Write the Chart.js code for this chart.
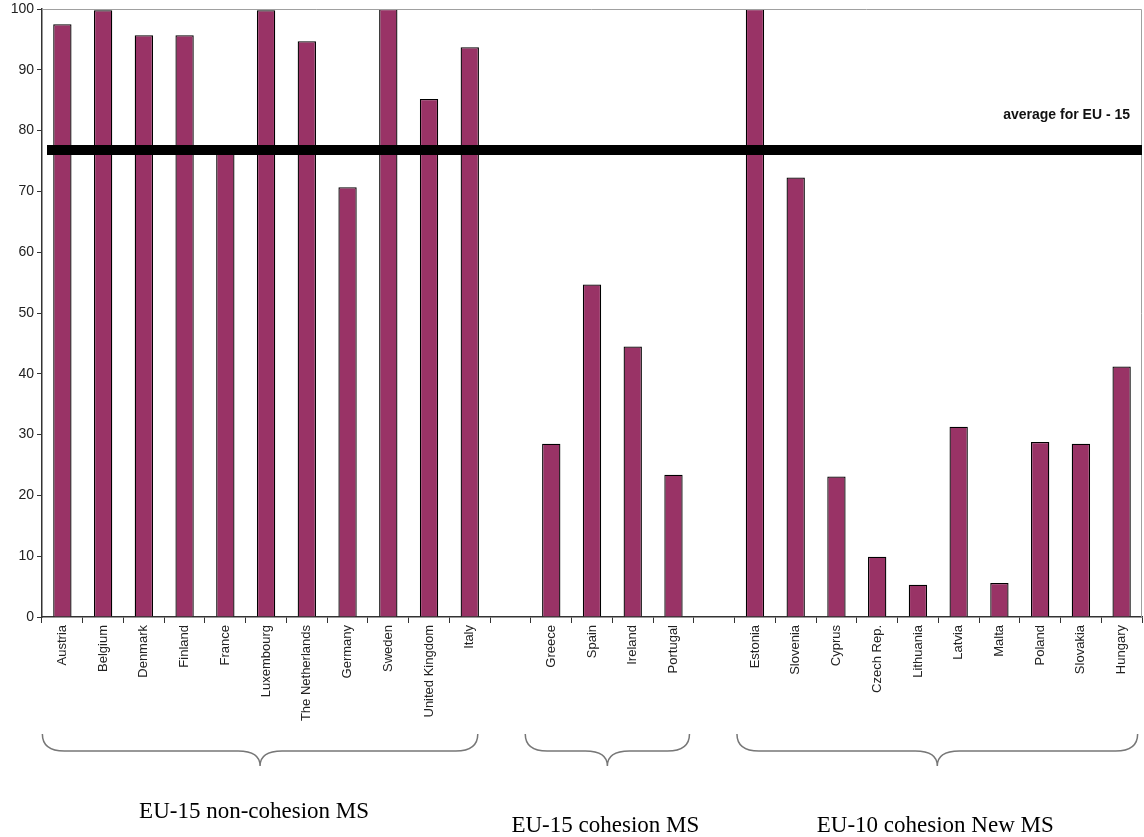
<!DOCTYPE html>
<html>
<head>
<meta charset="utf-8">
<script src="https://cdn.jsdelivr.net/npm/chart.js@4"></script>
<style>
  html, body { margin: 0; padding: 0; background: #fff; }
  #wrap { width: 1144px; height: 837px; }
</style>
</head>
<body>
<div id="wrap"><canvas id="chart"></canvas></div>
<script>
// categories (empty strings are the gaps between the groups)
const countries = ['Austria', 'Belgium', 'Denmark', 'Finland', 'France', 'Luxembourg', 'The Netherlands',
  'Germany', 'Sweden', 'United Kingdom', 'Italy', '',
  'Greece', 'Spain', 'Ireland', 'Portugal', '',
  'Estonia', 'Slovenia', 'Cyprus', 'Czech Rep.', 'Lithuania', 'Latvia', 'Malta', 'Poland', 'Slovakia', 'Hungary'];
const values = [97.5, 99.8, 95.7, 95.7, 76.4, 99.8, 94.7, 70.7, 100, 85.2, 93.7, null,
  28.5, 54.7, 44.5, 23.4, null,
  100, 72.3, 23.1, 9.9, 5.3, 31.3, 5.6, 28.8, 28.5, 41.2];
const yTicks = [0, 10, 20, 30, 40, 50, 60, 70, 80, 90, 100];
const average = 76.8;
const averageLabel = 'average for EU - 15';
// groups: label, first index, last index
const groupNames = ['EU-15 non-cohesion MS', 'EU-15 cohesion MS', 'EU-10 cohesion New MS'];
const groupStart = [0, 12, 17];
const groupEnd = [10, 15, 26];

const extras = {
  id: 'extras',
  afterDatasetsDraw(chart) {
    const ctx = chart.ctx;
    const area = chart.chartArea;
    const x = chart.scales.x;
    const y = chart.scales.y;
    ctx.save();
    // grey frame top and right
    ctx.strokeStyle = '#a0a0a0';
    ctx.lineWidth = 1;
    ctx.beginPath();
    ctx.moveTo(area.left, area.top + 0.5);
    ctx.lineTo(area.right - 0.5, area.top + 0.5);
    ctx.lineTo(area.right - 0.5, area.bottom);
    ctx.stroke();

    // average line
    const ya = y.getPixelForValue(average);
    ctx.strokeStyle = '#000';
    ctx.lineWidth = 10;
    ctx.beginPath();
    ctx.moveTo(area.left + 5, ya);
    ctx.lineTo(area.right, ya);
    ctx.stroke();
    ctx.fillStyle = '#111';
    ctx.font = 'bold 14px Arial, "Liberation Sans", sans-serif';
    ctx.textAlign = 'right';
    ctx.textBaseline = 'middle';
    ctx.fillText(averageLabel, area.right - 12, ya - 35);

    // braces and group names
    ctx.strokeStyle = '#777';
    ctx.lineWidth = 1.5;
    const yTop = 734, h = 17, tip = 15, r = 22;
    const padL = [20, 26, 18], padR = [8, 16, 16];
    groupNames.forEach((name, i) => {
      const x0 = x.getPixelForValue(groupStart[i]) - padL[i];
      const x1 = x.getPixelForValue(groupEnd[i]) + padR[i];
      const mid = (x0 + x1) / 2;
      const yb = yTop + h;
      ctx.beginPath();
      ctx.moveTo(x0, yTop);
      ctx.quadraticCurveTo(x0, yb, x0 + r, yb);
      ctx.lineTo(mid - r, yb);
      ctx.quadraticCurveTo(mid, yb, mid, yb + tip);
      ctx.quadraticCurveTo(mid, yb, mid + r, yb);
      ctx.lineTo(x1 - r, yb);
      ctx.quadraticCurveTo(x1, yb, x1, yTop);
      ctx.stroke();

      ctx.fillStyle = '#000';
      ctx.font = '23px "Liberation Serif", "Times New Roman", serif';
      ctx.textAlign = 'center';
      ctx.textBaseline = 'middle';
      ctx.fillText(name, i === 0 ? mid - 6 : mid - 2, i === 0 ? 812 : 826);
    });
    ctx.restore();
  }
};

new Chart(document.getElementById('chart'), {
  type: 'bar',
  data: {
    labels: countries,
    datasets: [{
      data: values,
      backgroundColor: '#993366',
      borderColor: '#000',
      borderWidth: 1.3,
      barPercentage: 0.45,
      categoryPercentage: 1
    }]
  },
  options: {
    responsive: true,
    maintainAspectRatio: false,
    animation: false,
    layout: { padding: { top: 9, right: 2, left: 0, bottom: 0 } },
    plugins: { legend: { display: false }, tooltip: { enabled: false } },
    scales: {
      x: {
        afterFit(scale) { scale.height = 220; },
        grid: { offset: true, drawOnChartArea: false, drawTicks: true, tickLength: 6, color: '#333' },
        border: { color: '#333', width: 1.5 },
        ticks: {
          autoSkip: false,
          minRotation: 90,
          maxRotation: 90,
          padding: 2,
          color: '#222',
          font: { family: 'Arial, "Liberation Sans", sans-serif', size: 13 }
        }
      },
      y: {
        min: 0,
        max: 100,
        afterFit(scale) {
          scale.width = 42;
          scale.paddingTop = 0;
          scale.paddingBottom = 0;
        },
        afterBuildTicks(scale) { scale.ticks = yTicks.map(v => ({ value: v })); },
        grid: { drawOnChartArea: false, drawTicks: true, tickLength: 5, color: '#333' },
        border: { color: '#333', width: 1.5 },
        ticks: {
          padding: 3,
          color: '#222',
          font: { family: 'Arial, "Liberation Sans", sans-serif', size: 14 }
        }
      }
    }
  },
  plugins: [extras]
});
</script>
</body>
</html>
